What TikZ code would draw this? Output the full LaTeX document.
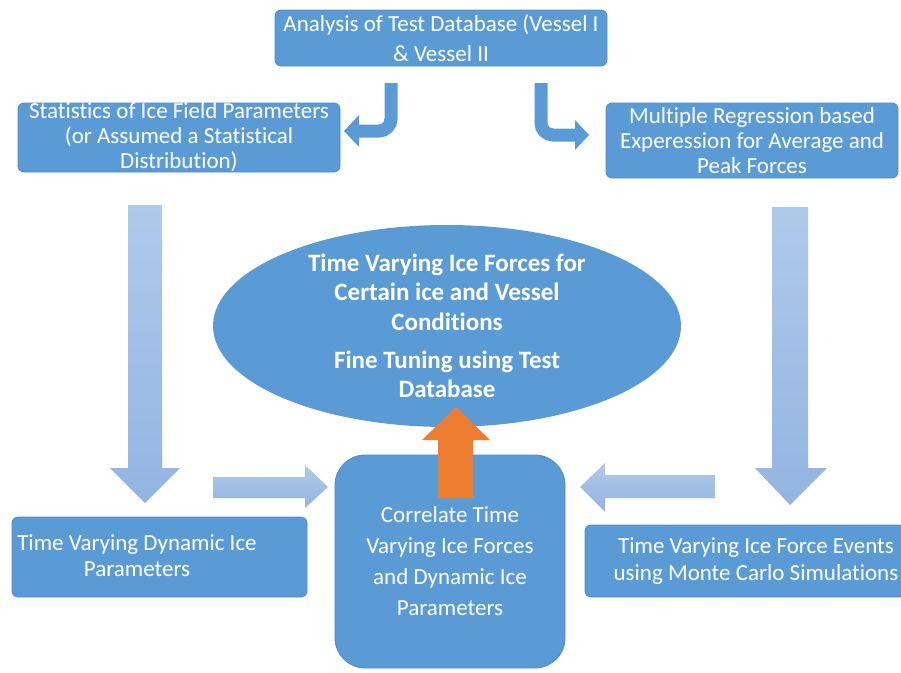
\documentclass[tikz,border=0pt]{standalone}
\usepackage{fontspec}
\setmainfont{Carlito}[Ligatures=NoCommon]
\usetikzlibrary{shapes.geometric}

\definecolor{boxblue}{HTML}{5B9BD5}
\definecolor{boxedge}{HTML}{4F8CC9}
\definecolor{palelight}{HTML}{AFC9EA}
\definecolor{paledark}{HTML}{92B5E1}
\definecolor{arroworange}{HTML}{ED7D31}

\begin{document}
\begin{tikzpicture}[x=1pt, y=-1pt, text=white,
	font=\fontsize{23}{25}\selectfont,
	blk/.style={fill=boxblue, draw=boxedge, line width=0.8pt, rounded corners=6pt, inner xsep=0pt, inner ysep=-3pt, align=center},
	pale/.style={top color=palelight, bottom color=paledark},
	bentline/.style={draw=boxblue, line width=13pt}]

	\useasboundingbox (0,0) rectangle (901,672);

	%% top row of boxes
	\node[blk, minimum width=332pt, minimum height=56pt, font=\fontsize{23}{30}\selectfont] (analysis) at (441,38) {Analysis of Test Database (Vessel I\\\& Vessel II};
	\node[blk, minimum width=322pt, minimum height=69pt] (stats) at (179,137.5) {Statistics of Ice Field Parameters\\(or Assumed a Statistical\\Distribution)};
	\node[blk, minimum width=292pt, minimum height=75pt] (regress) at (752,140.5) {Multiple Regression based\\Experession for Average and\\Peak Forces};

	%% bent arrows out of the top box
	\draw[bentline, rounded corners=12pt] (391,83) -- (391,131) -- (357,131);
	\fill[boxblue] (359,115) -- (359,147) -- (344,131) -- cycle;
	\draw[bentline, rounded corners=12pt] (541,83) -- (541,135) -- (577,135);
	\fill[boxblue] (575,120) -- (575,150) -- (589,135) -- cycle;

	%% pale block arrows
	\shade[pale] (128,205) -- (162,205) -- (162,468) -- (180,468) -- (145,503) -- (110,468) -- (128,468) -- cycle;
	\shade[pale] (772,207) -- (808,207) -- (808,468) -- (827,468) -- (790,505) -- (755,468) -- (772,468) -- cycle;
	\shade[pale] (213,477) -- (305,477) -- (305,465) -- (328,487) -- (305,508) -- (305,498) -- (213,498) -- cycle;
	\shade[pale] (715,475) -- (605,475) -- (605,463) -- (580,487) -- (605,512) -- (605,498) -- (715,498) -- cycle;

	%% the ellipse
	\node[ellipse, fill=boxblue, minimum width=468pt, minimum height=202pt, inner sep=-7pt, align=center,
		font=\fontsize{25}{29.5}\selectfont\bfseries] (forces) at (447,326)
		{Time Varying Ice Forces for\\Certain ice and Vessel\\Conditions\\[8.5pt]Fine Tuning using Test\\Database};

	%% bottom row
	\node[blk, minimum width=295pt, minimum height=80pt] (dynbox) at (159.5,557) {};
	\node[align=center, font=\fontsize{23}{26}\selectfont] (dyn) at (137,556) {Time Varying Dynamic Ice\\Parameters};
	\node[blk, minimum width=340pt, minimum height=72pt] (eventbox) at (755,561) {};
	\node[align=center, font=\fontsize{23}{27}\selectfont] (events) at (756,561) {Time Varying Ice Force Events\\using Monte Carlo Simulations};
	\node[blk, rounded corners=30pt, minimum width=230pt, minimum height=213pt, font=\fontsize{23}{31}\selectfont] (correlate) at (450,561.5)
		{Correlate Time\\Varying Ice Forces\\and Dynamic Ice\\Parameters};

	%% orange arrow up into the ellipse
	\fill[arroworange] (438,498) -- (438,440) -- (422,440) -- (456,407) -- (490,440) -- (473,440) -- (473,498) -- cycle;

\end{tikzpicture}
\end{document}
